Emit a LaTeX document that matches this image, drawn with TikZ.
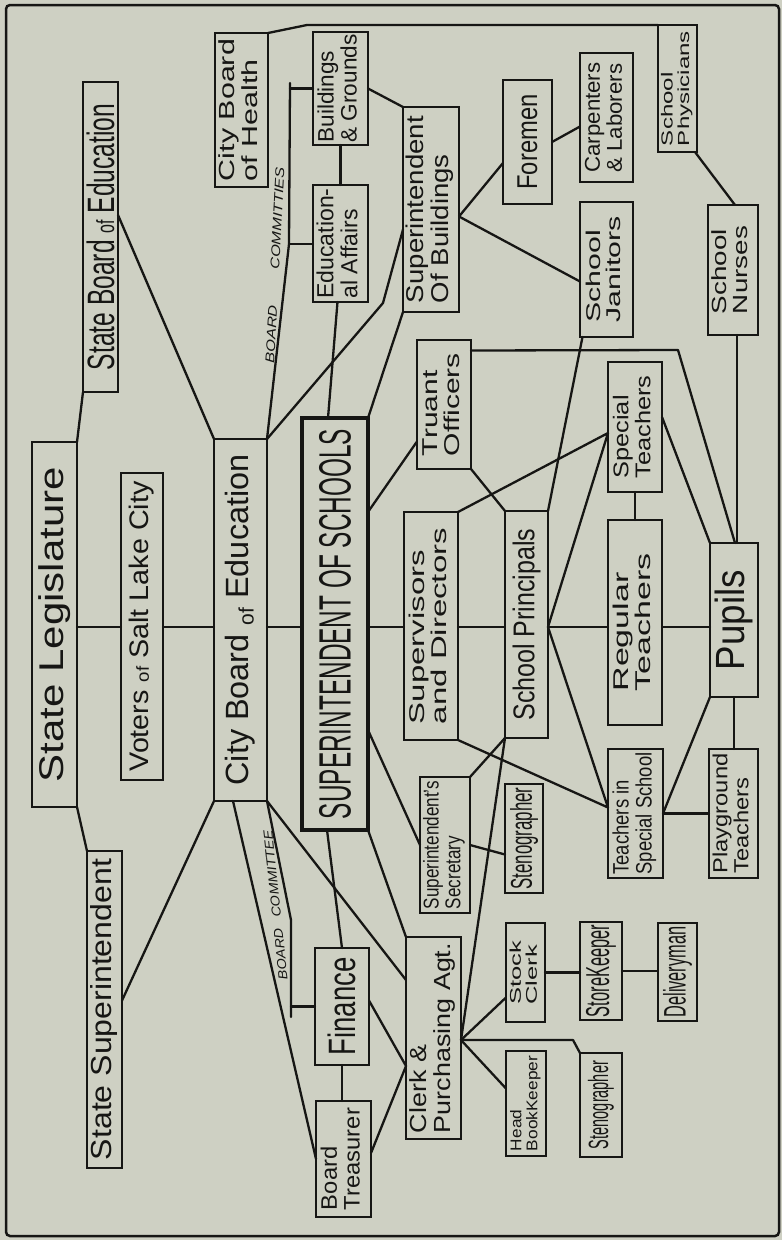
\documentclass[tikz,border=0pt]{standalone}
\usepackage{fontspec}
\setmainfont{Liberation Sans}
\usepackage{graphicx}
\usetikzlibrary{calc}
\definecolor{paper}{RGB}{206,208,195}
\definecolor{ink}{RGB}{22,22,20}
\newcommand\lbl[3]{\rotatebox{90}{\resizebox*{#1}{#2}{#3}}}
\newcommand\two[2]{\renewcommand\arraystretch{0.85}\begin{tabular}{@{}l@{}}#1\\#2\end{tabular}}
\newcommand\sof{{\fontsize{6.5}{7}\selectfont of}}
\begin{document}
\begin{tikzpicture}[x=1pt,y=-1pt,
  box/.style={draw=ink, fill=paper, line width=2.4pt, inner sep=0pt, outer sep=0pt, rectangle, text=ink},
  con/.style={draw=ink, line width=2.3pt, line cap=round, line join=round},
  bc/.style={inner sep=0pt, text=ink}]
\fill[paper] (0,0) rectangle (782,1240);
\useasboundingbox (0,0) rectangle (782,1240);
\draw[ink, line width=2.5pt, rounded corners=4pt] (6,5) rectangle (779,1236);

% nodes
\node[box, minimum width=45pt, minimum height=365pt] (sl) at (54.5,624.5) {\lbl{315pt}{32pt}{State Legislature}};
\node[box, minimum width=35pt, minimum height=310pt] (sbe) at (100.5,237) {\lbl{266pt}{28pt}{State Board \sof{} Education}};
\node[box, minimum width=35pt, minimum height=317pt] (ss) at (104.5,1009.5) {\lbl{301pt}{27pt}{State Superintendent}};
\node[box, minimum width=42pt, minimum height=307pt] (vot) at (142,626.5) {\lbl{290pt}{25pt}{Voters \sof{} Salt Lake City}};
\node[box, minimum width=53pt, minimum height=362pt] (cbe) at (240.5,620) {\lbl{331pt}{30pt}{City Board \raisebox{-1.5pt}{\sof} Education}};
\node[box, minimum width=53pt, minimum height=154pt] (cbh) at (241.5,110) {\lbl{142pt}{45pt}{\two{City Board}{of Health}}};
\node[box, line width=4.5pt, minimum width=66pt, minimum height=412pt] (sots) at (335,624) {\lbl{390pt}{32pt}{SUPERINTENDENT OF SCHOOLS}};
\node[box, minimum width=55pt, minimum height=113pt] (bg) at (340.5,88.5) {\lbl{108pt}{46pt}{\two{Buildings}{\& Grounds}}};
\node[box, minimum width=55pt, minimum height=117pt] (ea) at (340.5,243.5) {\lbl{110pt}{48pt}{\two{Education-}{al Affairs}}};
\node[box, minimum width=54pt, minimum height=117pt] (fin) at (342,1006.5) {\lbl{98pt}{28pt}{Finance}};
\node[box, minimum width=55pt, minimum height=116pt] (tre) at (343.5,1159) {\lbl{102pt}{46pt}{\two{Board}{Treasurer}}};
\node[box, minimum width=56pt, minimum height=205pt] (sob) at (431,209.5) {\lbl{187pt}{50pt}{\two{Superintendent}{Of Buildings}}};
\node[box, minimum width=54pt, minimum height=228pt] (sd) at (431,626) {\lbl{196pt}{44pt}{\two{Supervisors}{and Directors}}};
\node[box, minimum width=55pt, minimum height=202pt] (clk) at (433.5,1038) {\lbl{190pt}{48pt}{\two{Clerk \&}{Purchasing Agt.}}};
\node[box, minimum width=54pt, minimum height=129pt] (tru) at (444,404.5) {\lbl{103pt}{44pt}{\two{Truant}{Officers}}};
\node[box, minimum width=50pt, minimum height=136pt] (sec) at (445,845) {\lbl{128pt}{44pt}{\two{Superintendent's}{Secretary}}};
\node[box, minimum width=49pt, minimum height=124pt] (fore) at (527.5,142) {\lbl{95pt}{20pt}{Foremen}};
\node[box, minimum width=43pt, minimum height=227pt] (sp) at (526.5,624.5) {\lbl{192pt}{28pt}{School Principals}};
\node[box, minimum width=38pt, minimum height=109pt] (ste1) at (524,838.5) {\lbl{102pt}{28pt}{Stenographer}};
\node[box, minimum width=39pt, minimum height=99pt] (stk) at (525.5,972.5) {\lbl{64pt}{32pt}{\two{Stock}{Clerk}}};
\node[box, minimum width=40pt, minimum height=105pt] (hbk) at (526,1103.5) {\lbl{95pt}{32pt}{\two{Head}{BookKeeper}}};
\node[box, minimum width=53pt, minimum height=129pt] (carp) at (606.5,117.5) {\lbl{110pt}{44pt}{\two{Carpenters}{\& Laborers}}};
\node[box, minimum width=53pt, minimum height=135pt] (jan) at (606.5,269.5) {\lbl{106pt}{41pt}{\two{School}{Janitors}}};
\node[box, minimum width=42pt, minimum height=98pt] (stor) at (601,971) {\lbl{92pt}{30pt}{StoreKeeper}};
\node[box, minimum width=42pt, minimum height=104pt] (ste2) at (601,1105) {\lbl{88pt}{26pt}{Stenographer}};
\node[box, minimum width=54pt, minimum height=130pt] (spt) at (635,427) {\lbl{103pt}{44pt}{\two{Special}{Teachers}}};
\node[box, minimum width=54pt, minimum height=205pt] (reg) at (635,622.5) {\lbl{138pt}{44pt}{\two{Regular}{Teachers}}};
\node[box, minimum width=55pt, minimum height=129pt] (tss) at (635.5,813.5) {\lbl{122pt}{46pt}{\two{Teachers in}{Special School}}};
\node[box, minimum width=39pt, minimum height=127pt] (phys) at (677.5,88.5) {\lbl{115pt}{33pt}{\two{School}{Physicians}}};
\node[box, minimum width=39pt, minimum height=98pt] (deli) at (677.5,972) {\lbl{91pt}{29pt}{Deliveryman}};
\node[box, minimum width=50pt, minimum height=130pt] (nurs) at (733,270) {\lbl{88pt}{42pt}{\two{School}{Nurses}}};
\node[box, minimum width=48pt, minimum height=154pt] (pup) at (734,620) {\lbl{100pt}{38pt}{Pupils}};
\node[box, minimum width=49pt, minimum height=129pt] (play) at (733.5,813.5) {\lbl{120pt}{42pt}{\two{Playground}{Teachers}}};

% committee labels
\node[bc, rotate=87] (bcu) at (275,265) {\resizebox*{196pt}{9pt}{\textit{BOARD\hspace{2.2em}COMMITTIES}}};
\node[bc, rotate=96] (bcl) at (275.5,905) {\resizebox*{150pt}{9pt}{\textit{BOARD\hspace{0.8em}COMMITTEE}}};

% coordinates
\coordinate (spine) at (0,627);
\coordinate (bcA) at (289,244);
\coordinate (bcB) at (290,83);
\coordinate (bcC) at (291,920);
\coordinate (bcD) at (291,1017);
\coordinate (cbeK) at (383,303);
\coordinate (truK) at (678,350);
\coordinate (cbhK) at (307,25);
\coordinate (clkR) at ([shift={(0,2)}]clk.east);
\coordinate (sobR) at ([shift={(0,7)}]sob.east);
\coordinate (sptL) at ([shift={(0,6)}]spt.west);
\coordinate (tssL) at ([shift={(0,-6)}]tss.west);
\coordinate (nurB) at ([shift={(4,0)}]nurs.south);
\coordinate (clkL) at ([shift={(0,28)}]clk.west);

% spine
\draw[con] (sl.east |- spine) -- (vot.west |- spine);
\draw[con] (vot.east |- spine) -- (cbe.west |- spine);
\draw[con] (cbe.east |- spine) -- (sots.west |- spine);
\draw[con] (sots.east |- spine) -- (sd.west |- spine);
\draw[con] (sd.east |- spine) -- (sp.west |- spine);
\draw[con] (sp.east |- spine) -- (reg.west |- spine);
\draw[con] (reg.east |- spine) -- (pup.west |- spine);

% state level
\draw[con] (sl.north east) -- (sbe.south west);
\draw[con] (sl.south east) -- (ss.north west);
\draw[con] ([shift={(0,-22)}]sbe.east) -- (cbe.north west);
\draw[con] ([shift={(0,-9)}]ss.east) -- (cbe.south west);

% board committees
\draw[con] (cbe.north east) -- (bcA) -- (bcB);
\draw[con] (bcA) -- (ea.west |- bcA);
\draw[con] (bg.west) -- (bg.west -| bcB);
\draw[con] (cbe.south east) -- (bcC) -- (bcD);
\draw[con] (fin.west) -- (fin.west -| bcD);

% city board
\draw[con] ([shift={(19,0)}]cbe.south west) -- (tre.west);
\draw[con] (cbe.south east) -- ([shift={(0,-58)}]clk.west);
\draw[con] (cbe.north east) -- (cbeK) -- ([shift={(0,20)}]sob.west);
\draw[con] (bg.east) -- (sob.north west);
\draw[con] (bg.south) -- (ea.north);
\draw[con] (cbh.north east) -- (cbhK) -- (phys.north west);

% superintendent of schools
\draw[con] ([shift={(-3,0)}]ea.south) -- ([shift={(-7,0)}]sots.north);
\draw[con] (sots.north east) -- (sob.south west);
\draw[con] ([shift={(0,-112)}]sots.east) -- ([shift={(0,37)}]tru.west);
\draw[con] ([shift={(0,106)}]sots.east) -- (sec.west);
\draw[con] (sots.south east) -- (clk.north west);
\draw[con] ([shift={(-8,0)}]sots.south) -- (fin.north);

% finance
\draw[con] (fin.south) -- (fin.south |- tre.north);
\draw[con] ([shift={(0,-6)}]fin.east) -- (clkL) -- ([shift={(0,-6)}]tre.east);

% secretary
\draw[con] (sec.north east) -- (sp.south west);
\draw[con] (sec.east) -- ([shift={(0,16)}]ste1.west);

% clerk
\draw[con] (clkR) -- (sp.south west);
\draw[con] (clkR) -- ([shift={(0,25)}]stk.west);
\draw[con] (clkR) -- ([shift={(0,-15)}]hbk.west);
\draw[con] (clkR) -- ([shift={(-7,-13)}]ste2.north west) -- (ste2.north west);
\draw[con] (stk.east) -- (stk.east -| stor.west);
\draw[con] (stor.east) -- (stor.east -| deli.west);

% schools
\draw[con] (sd.north east) -- (sptL) -- (sp.east |- spine);
\draw[con] (sd.south east) -- (tssL) -- (sp.east |- spine);
\draw[con] (tru.south east) -- (sp.north west);
\draw[con] ([shift={(0,-54)}]tru.east) -- (truK) -- ([shift={(1,0)}]pup.north);
\draw[con] ([shift={(-24,0)}]jan.south) -- (sp.north east);
\draw[con] (spt.south) -- (spt.south |- reg.north);
\draw[con] ([shift={(0,-10)}]spt.east) -- (pup.north west);
\draw[con] (tss.east) -- (tss.east -| play.west);
\draw[con] (tss.east) -- (pup.south west);
\draw[con] (pup.south) -- (pup.south |- play.north);

% buildings
\draw[con] (sobR) -- ([shift={(0,21)}]fore.west);
\draw[con] (sobR) -- ([shift={(0,12)}]jan.west);
\draw[con] (fore.east) -- ([shift={(0,9)}]carp.west);
\draw[con] ([shift={(-2,0)}]phys.south east) -- ([shift={(2,0)}]nurs.north);
\draw[con] (nurB) -- (nurB |- pup.north);
\end{tikzpicture}
\end{document}
